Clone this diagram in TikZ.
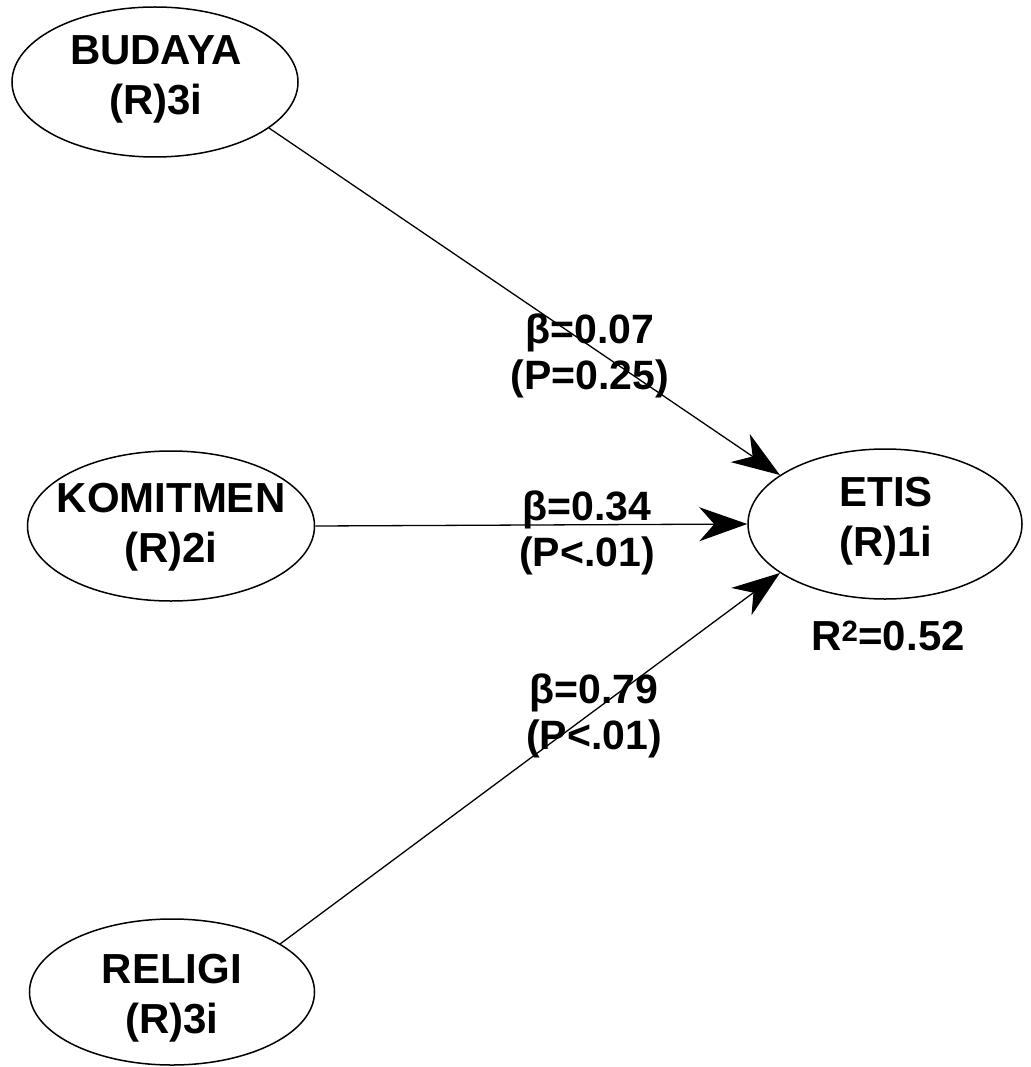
\documentclass[tikz,border=0pt]{standalone}
\usepackage{fontspec}
\setmainfont{Liberation Sans}
\usetikzlibrary{arrows.meta,shapes.geometric}
\begin{document}
\begin{tikzpicture}[x=1pt,y=-1pt,
  lv/.style={draw, ellipse, line width=1.5pt, inner sep=0pt},
  lvtxt/.style={font=\bfseries\fontsize{42}{50}\selectfont, align=center, inner sep=0pt},
  coef/.style={font=\bfseries\fontsize{41}{46}\selectfont, align=center, inner sep=0pt},
  effect/.style={line width=1.3pt, -{Stealth[length=48pt,width=34pt,inset=15pt]}}
]
\useasboundingbox (0,0) rectangle (1030,1067);
% latent variables
\node[lv, minimum width=286pt, minimum height=150pt] (budaya) at (155,82) {};
\node[lv, minimum width=287pt, minimum height=150pt] (komitmen) at (171,526) {};
\node[lv, minimum width=285pt, minimum height=146pt] (religi) at (172,992) {};
\node[lv, minimum width=274pt, minimum height=150pt] (etis) at (885,524) {};
% texts
\node[lvtxt] (budayatxt) at (156,79) {BUDAYA\\(R)3i};
\node[lvtxt] (komitmentxt) at (171,527) {KOMITMEN\\(R)2i};
\node[lvtxt] (religitxt) at (172,998) {RELIGI\\(R)3i};
\node[lvtxt] (etistxt) at (886,521) {ETIS\\(R)1i};
\node[font=\bfseries\fontsize{42}{50}\selectfont, inner sep=0pt] (r2) at (888,636) {R\textsuperscript{2}=0.52};
% coefficients
\node[coef] (c1) at (590,356) {β=0.07\\(P=0.25)};
\node[coef] (c2) at (587,533) {β=0.34\\(P<.01)};
\node[coef] (c3) at (594,716) {β=0.79\\(P<.01)};
% paths
\draw[effect] (budaya.-22.3) -- (etis.155.2);
\draw[effect] (komitmen.east) -- (etis.west);
\draw[effect] (religi.24.4) -- (etis.205.9);
\end{tikzpicture}
\end{document}
